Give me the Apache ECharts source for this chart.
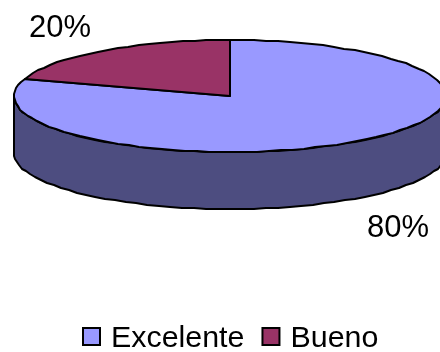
<!DOCTYPE html>
<html>
<head>
<meta charset="utf-8">
<style>html,body{margin:0;padding:0;background:#fff}#chart{width:440px;height:352px}</style>
<script src="https://cdn.jsdelivr.net/npm/echarts@6/dist/echarts.min.js"></script>
</head>
<body>
<div id="chart"></div>
<script>
// Survey result shares, drawn clockwise from twelve o'clock
const categories = ['Excelente', 'Bueno'];
const shares = [80, 20];
const topColors = ['#9999ff', '#993366'];
const wallColors = ['#4d4d80', '#4d1a33'];

// Disc geometry of the tilted pie
const disc = { cx: 230, cy: 96, rx: 216, ry: 56, depth: 57 };
const total = shares.reduce((a, b) => a + b, 0);
const STEP = Math.PI / 56;

// Point on the disc rim; angle runs clockwise from the top. Whole-pixel rim gives the hand-cut edge.
function rim(angle, drop) {
  return [
    Math.round(disc.cx + disc.rx * Math.sin(angle)),
    Math.round(disc.cy - disc.ry * Math.cos(angle) + (drop || 0))
  ];
}

function arc(from, to, drop) {
  const pts = [];
  const n = Math.max(1, Math.ceil((to - from) / STEP));
  for (let i = 0; i <= n; i++) pts.push(rim(from + (to - from) * i / n, drop));
  return pts;
}

function sliceBounds(index) {
  const before = shares.slice(0, index).reduce((a, b) => a + b, 0);
  return [before / total * 2 * Math.PI, (before + shares[index]) / total * 2 * Math.PI];
}

const edge = { stroke: '#000', lineWidth: 2, lineJoin: 'round' };

function renderSlice(index) {
  return function (params, api) {
    const [from, to] = sliceBounds(index);
    const children = [];

    // Front wall: only the part of the slice facing the viewer (quarter to three-quarter turn)
    const wallFrom = Math.max(from, Math.PI / 2);
    const wallTo = Math.min(to, Math.PI * 3 / 2);
    if (wallTo > wallFrom) {
      const upper = arc(wallFrom, wallTo, 0);
      const lower = arc(wallFrom, wallTo, disc.depth).reverse();
      children.push({
        type: 'polygon',
        shape: { points: upper.concat(lower) },
        style: Object.assign({ fill: wallColors[index] }, edge)
      });
    }

    // Top face of the slice
    children.push({
      type: 'polygon',
      shape: { points: [[disc.cx, disc.cy]].concat(arc(from, to, 0)) },
      style: Object.assign({ fill: topColors[index] }, edge)
    });

    // Percentage label outside the rim, beyond the wall on the near side
    const mid = (from + to) / 2;
    const anchor = rim(mid, Math.cos(mid) < 0 ? disc.depth : 0);
    children.push({
      type: 'text',
      style: {
        x: anchor[0] + Math.sign(Math.sin(mid)) * 42 - 1,
        y: anchor[1] + (Math.cos(mid) < 0 ? 30 : -23),
        text: api.value(0) + '%',
        fill: '#000',
        font: '31px "Liberation Sans", Arial, sans-serif',
        align: 'center',
        verticalAlign: 'middle'
      }
    });

    return { type: 'group', children };
  };
}

const legendFont = '"Liberation Sans", Arial, sans-serif';
const chart = echarts.init(document.getElementById('chart'), null, { renderer: 'canvas' });
chart.setOption({
  animation: false,
  backgroundColor: '#ffffff',
  legend: {
    data: categories,
    left: 82,
    top: 324,
    padding: 0,
    icon: 'rect',
    itemWidth: 17,
    itemHeight: 17,
    itemGap: 17,
    itemStyle: { borderColor: '#000', borderWidth: 2 },
    formatter: name => '{t|' + name + '}',
    textStyle: {
      color: '#000',
      fontFamily: legendFont,
      fontSize: 30.4,
      padding: [0, 0, 0, 6],
      rich: {
        t: { color: '#000', fontFamily: legendFont, fontSize: 30.4, padding: [5, 0, 0, 0] }
      }
    }
  },
  series: categories.map((name, i) => ({
    type: 'custom',
    name,
    coordinateSystem: 'none',
    itemStyle: { color: topColors[i] },
    renderItem: renderSlice(i),
    data: [[shares[i]]]
  }))
});
</script>
</body>
</html>
